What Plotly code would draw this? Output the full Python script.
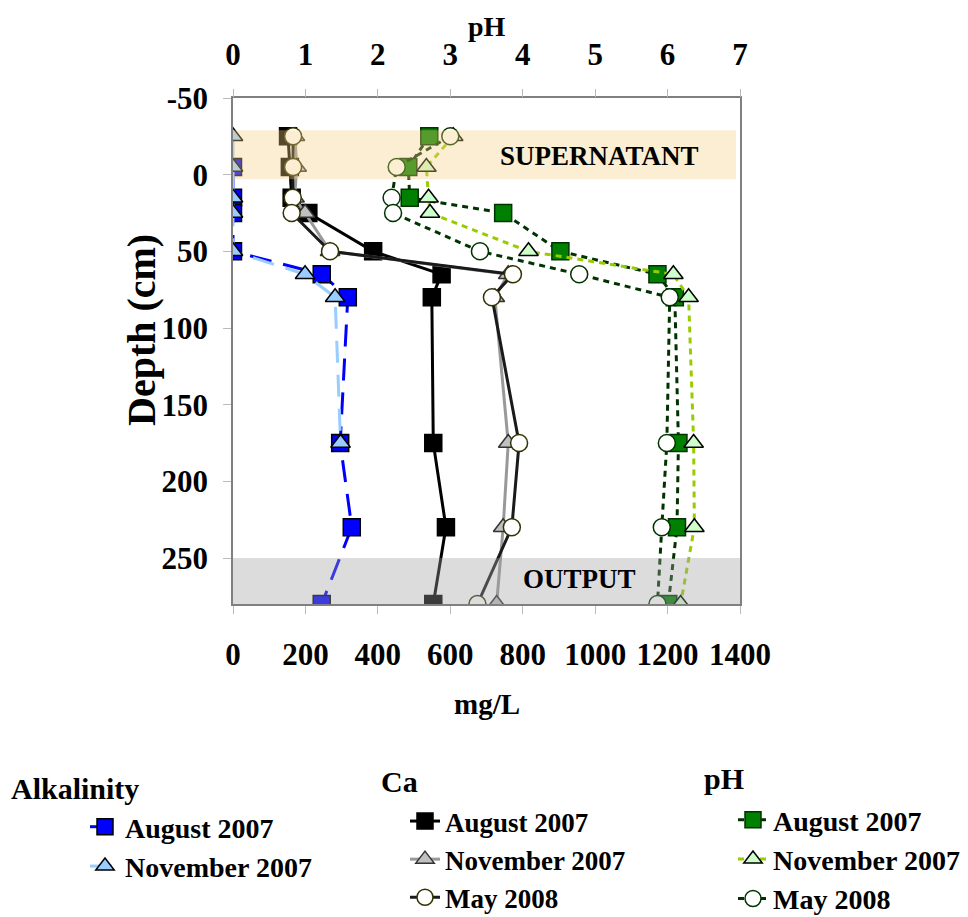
import plotly.graph_objects as go

# ---------------- data ----------------
depth = [-25, -5, 15, 25, 50, 65, 80, 175, 230, 280]

alk_aug_depth = [-5, 15, 25, 50, 65, 80, 175, 230, 280]
alk_aug = [0, 0, 0, 0, 245, 317, 296, 328, 245]
alk_nov_depth = [-25, -5, 15, 25, 50, 65, 80, 175]
alk_nov = [0, 0, 0, 0, 0, 199, 282, 297]

ca_aug = [152, 157, 162, 208, 387, 576, 549, 553, 588, 553]
ca_nov = [171, 176, 170, 199, 268, 760, 723, 760, 746, 728]
ca_may = [166, 166, 165, 162, 268, 773, 715, 790, 770, 675]

ph_aug = [2.71, 2.42, 2.44, 3.73, 4.52, 5.86, 6.10, 6.15, 6.13, 6.01]
ph_nov = [3.04, 2.67, 2.70, 2.72, 4.08, 6.08, 6.29, 6.36, 6.37, 6.18]
ph_may = [3.00, 2.26, 2.19, 2.21, 3.41, 4.78, 6.03, 5.99, 5.92, 5.86]

mg_ticks = [0, 200, 400, 600, 800, 1000, 1200, 1400]
ph_ticks = [0, 1, 2, 3, 4, 5, 6, 7]
depth_ticks = [-50, 0, 50, 100, 150, 200, 250]
depth_ticktext = ["-50", "0", "50", "100", "150", "200", "250"]

supernatant_band = (-29, 3)
output_band = (250, 280)

FONT = "Liberation Serif"
MS = 17

fig = go.Figure()

def add(x, y, name, legend, xaxis, line, marker, group):
    fig.add_trace(go.Scatter(
        x=x, y=y, name=name, mode="lines+markers", xaxis=xaxis, yaxis="y",
        line=line, marker=marker, legend=legend, legendgroup=group,
    ))

# Alkalinity
add(alk_aug, alk_aug_depth, "August 2007", "legend", "x",
    dict(color="#0000FF", width=3, dash="22px,12px"),
    dict(symbol="square", size=MS, color="#0000FF", line=dict(color="#000000", width=1.5)), "a1")
add(alk_nov, alk_nov_depth, "November 2007", "legend", "x",
    dict(color="#99CCFF", width=3, dash="22px,12px"),
    dict(symbol="triangle-up", size=MS, color="#99CCFF", line=dict(color="#000000", width=1.5)), "a2")

# Ca
add(ca_aug, depth, "August 2007", "legend2", "x",
    dict(color="#000000", width=3),
    dict(symbol="square", size=MS, color="#000000", line=dict(color="#000000", width=1.5)), "c1")
add(ca_nov, depth, "November 2007", "legend2", "x",
    dict(color="#999999", width=3),
    dict(symbol="triangle-up", size=MS, color="#C0C0C0", line=dict(color="#333333", width=1.5)), "c2")
add(ca_may, depth, "May 2008", "legend2", "x",
    dict(color="#1a1a1a", width=3),
    dict(symbol="circle", size=MS, color="#FFFFFF", line=dict(color="#333300", width=1.5)), "c3")

# pH
add(ph_aug, depth, "August 2007", "legend3", "x2",
    dict(color="#003300", width=3, dash="6px,5px"),
    dict(symbol="square", size=MS, color="#008000", line=dict(color="#003300", width=1.5)), "p1")
add(ph_nov, depth, "November 2007", "legend3", "x2",
    dict(color="#99CC00", width=3, dash="6px,5px"),
    dict(symbol="triangle-up", size=MS, color="#CCFFCC", line=dict(color="#000000", width=1.5)), "p2")
add(ph_may, depth, "May 2008", "legend3", "x2",
    dict(color="#003300", width=3, dash="6px,5px"),
    dict(symbol="circle", size=MS, color="#FFFFFF", line=dict(color="#003300", width=1.5)), "p3")

tickfont = dict(family=FONT, size=31, color="#000000", weight="bold")
legfont = dict(family=FONT, size=28, color="#000000", weight="bold")
legfont_ca = dict(family=FONT, size=27, color="#000000", weight="bold")

# page-pixel helpers (page body has an 8px margin)
L, T, PW, PH = 233, 98, 507, 506

def px(xp):
    return (xp - L) / PW

def py(yp):
    return (T + PH - yp) / PH

fig.update_layout(
    width=960, height=909,
    margin=dict(l=225, r=228, t=90, b=313, autoexpand=False),
    paper_bgcolor="white", plot_bgcolor="white",
    xaxis=dict(range=[0, 1400], tickvals=mg_ticks, showgrid=False, zeroline=False,
               showline=True, linecolor="#808080", linewidth=1.5, mirror=True,
               ticks="outside", ticklen=8, tickcolor="#bbbbbb", tickfont=tickfont,
               ticklabelstandoff=14),
    xaxis2=dict(range=[0, 7], tickvals=ph_ticks, overlaying="x", side="top",
                showgrid=False, zeroline=False, showline=False,
                ticks="outside", ticklen=8, tickcolor="#bbbbbb", tickfont=tickfont,
                ticklabelstandoff=12),
    yaxis=dict(range=[280, -50], tickvals=depth_ticks, ticktext=depth_ticktext,
               showgrid=False, zeroline=False,
               showline=True, linecolor="#808080", linewidth=1.5, mirror=True,
               ticks="outside", ticklen=8, tickcolor="#bbbbbb", tickfont=tickfont,
               ticklabelstandoff=9),
    legend=dict(x=px(85), y=py(802), xanchor="left", yanchor="top", font=legfont,
                bgcolor="rgba(0,0,0,0)", tracegroupgap=0, itemwidth=30),
    legend2=dict(x=px(405), y=py(797), xanchor="left", yanchor="top", font=legfont_ca,
                 bgcolor="rgba(0,0,0,0)", tracegroupgap=0, itemwidth=30),
    legend3=dict(x=px(733), y=py(795), xanchor="left", yanchor="top", font=legfont,
                 bgcolor="rgba(0,0,0,0)", tracegroupgap=0, itemwidth=30),
    showlegend=True,
)

# axis titles as text
fig.add_annotation(text="Depth (cm)", xref="paper", yref="paper", x=px(141), y=py(330),
                   textangle=-90, showarrow=False, xanchor="center", yanchor="middle",
                   font=dict(family=FONT, size=40, color="#000000", weight="bold"))
fig.add_annotation(text="pH", xref="paper", yref="paper", x=px(487), y=py(9),
                   showarrow=False, xanchor="center", yanchor="top",
                   font=dict(family=FONT, size=28, color="#000000", weight="bold"))
fig.add_annotation(text="mg/L", xref="paper", yref="paper", x=px(487), y=py(704),
                   showarrow=False, xanchor="center", yanchor="middle",
                   font=dict(family=FONT, size=29, color="#000000", weight="bold"))

# background bands drawn over the data, semi-transparent
fig.add_shape(type="rect", xref="paper", yref="y", x0=0.0, x1=0.992,
              y0=supernatant_band[0], y1=supernatant_band[1],
              fillcolor="rgb(246,206,126)", opacity=0.35, line=dict(width=0), layer="above")
fig.add_shape(type="rect", xref="paper", yref="y", x0=0.0, x1=1.0,
              y0=output_band[0], y1=output_band[1],
              fillcolor="rgb(162,160,162)", opacity=0.37, line=dict(width=0), layer="above")

fig.add_annotation(text="SUPERNATANT", x=1013, y=-12, xref="x", yref="y", showarrow=False,
                   font=dict(family=FONT, size=27, color="#000000", weight="bold"))
fig.add_annotation(text="OUTPUT", x=958, y=264, xref="x", yref="y", showarrow=False,
                   font=dict(family=FONT, size=27, color="#000000", weight="bold"))

# legend titles
for txt, xp, yp in [("Alkalinity", 9, 788), ("Ca", 379, 781), ("pH", 702, 778)]:
    fig.add_annotation(text=txt, xref="paper", yref="paper",
                       x=px(xp), y=py(yp), xanchor="left", yanchor="middle",
                       showarrow=False,
                       font=dict(family=FONT, size=30, color="#000000", weight="bold"))

fig.write_html("out.html")
